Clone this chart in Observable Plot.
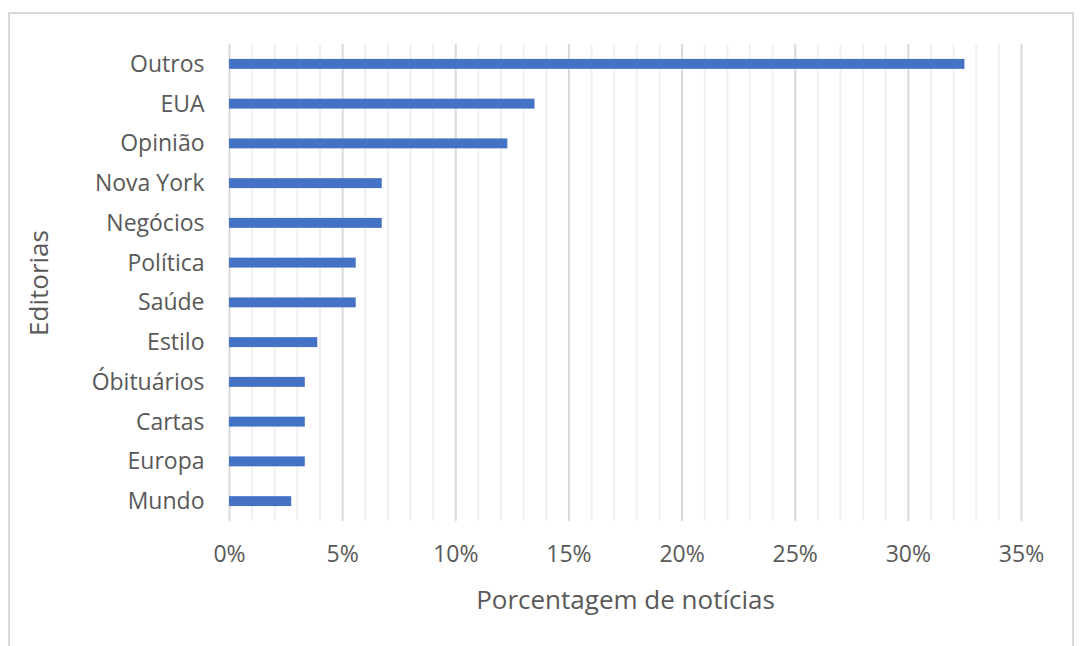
<!DOCTYPE html>
<html>
<head>
<meta charset="utf-8">
<script src="https://cdn.jsdelivr.net/npm/d3@7"></script>
<script src="https://cdn.jsdelivr.net/npm/@observablehq/plot@0.6"></script>
<style>
  html, body { margin: 0; padding: 0; background: #fff; }
  #wrap { position: relative; width: 1083px; height: 646px; overflow: hidden; }
  #border { position: absolute; left: 8px; top: 12px; width: 1066px; height: 700px; border: 2px solid #d9d9d9; box-sizing: border-box; pointer-events: none; }
  #chart { position: absolute; left: 0; top: 0; }
</style>
</head>
<body>
<div id="wrap"><div id="chart"></div><div id="border"></div></div>
<script>
const categories = ["Outros", "EUA", "Opinião", "Nova York", "Negócios", "Política", "Saúde", "Estilo", "Óbituários", "Cartas", "Europa", "Mundo"];
const values = [32.5, 13.5, 12.3, 6.75, 6.75, 5.6, 5.6, 3.9, 3.35, 3.35, 3.35, 2.75];
const majorTicks = [0, 5, 10, 15, 20, 25, 30, 35];
const minorTicks = [1, 2, 3, 4, 6, 7, 8, 9, 11, 12, 13, 14, 16, 17, 18, 19, 21, 22, 23, 24, 26, 27, 28, 29, 31, 32, 33, 34];

const data = categories.map((c, i) => ({ cat: c, value: values[i] }));

const chart = Plot.plot({
  width: 1083,
  height: 646,
  marginLeft: 229,
  marginRight: 62,
  marginTop: 44,
  marginBottom: 125,
  style: { fontFamily: "'Open Sans', sans-serif", fontSize: "23px", color: "#595959", background: "transparent" },
  x: { domain: [0, 35] },
  y: { domain: categories, paddingInner: 0.75, paddingOuter: 0.375, round: false },
  marks: [
    Plot.ruleX(minorTicks, { stroke: "#f0f0f0", strokeWidth: 2 }),
    Plot.ruleX(majorTicks, { stroke: "#d9d9d9", strokeWidth: 2 }),
    Plot.barX(data, { x: "value", y: "cat", fill: "#4472c4" }),
    Plot.axisX({ ticks: majorTicks, tickFormat: d => d + "%", tickSize: 0, tickPadding: 24, fontSize: 23, fill: "#595959", label: null }),
    Plot.axisX({ ticks: [], tickSize: 0, label: "Porcentagem de notícias", labelAnchor: "center", labelOffset: 87, labelArrow: "none", fontSize: 26, fill: "#595959" }),
    Plot.axisY({ tickSize: 0, tickPadding: 25, fontSize: 23, fill: "#595959", label: null }),
    Plot.axisY({ ticks: [], tickSize: 0, label: "Editorias", labelAnchor: "center", labelOffset: 200, labelArrow: "none", fontSize: 26, fill: "#595959" })
  ]
});
document.getElementById("chart").appendChild(chart);
</script>
</body>
</html>
